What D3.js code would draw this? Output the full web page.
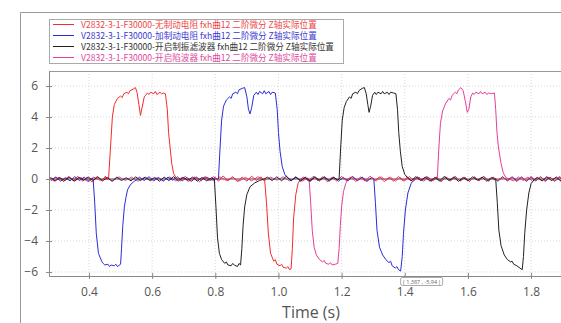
<!DOCTYPE html>
<html>
<head>
<meta charset="utf-8">
<script src="https://cdn.jsdelivr.net/npm/d3@7"></script>
<style>
  body { margin: 0; background: #fff; }
  svg { display: block; font-family: "Open Sans", "Noto Sans", sans-serif; }
  .tick text { fill: #555; font-size: 12px; }
  .legend text { font-family: "Noto Sans CJK SC", "Noto Sans", sans-serif; font-size: 8.6px; }
</style>
</head>
<body>
<svg id="chart" width="561" height="323"></svg>
<script>
const timeTicks = [0.4, 0.6, 0.8, 1.0, 1.2, 1.4, 1.6, 1.8];
const valueTicks = [-6, -4, -2, 0, 2, 4, 6];
const legendLabels = [
  "V2832-3-1-F30000-无制动电阻 fxh曲12 二阶微分 Z轴实际位置",
  "V2832-3-1-F30000-加制动电阻 fxh曲12 二阶微分 Z轴实际位置",
  "V2832-3-1-F30000-开启制振滤波器 fxh曲12 二阶微分 Z轴实际位置",
  "V2832-3-1-F30000-开启陷波器 fxh曲12 二阶微分 Z轴实际位置"
];
const lineColors = ["#f52a2a", "#2b2bdc", "#222222", "#e33f9c"];
const textColors = ["#f04545", "#3a3ad0", "#333333", "#e0489e"];

// 无制动电阻
const redData = [
  [0.275,0.08],[0.29,-0.14],[0.305,0.12],[0.32,-0.17],[0.335,0.14],[0.35,-0.1],[0.365,0.17],[0.38,-0.14],[0.395,0.12],[0.41,-0.2],[0.425,0.16],[0.44,-0.12],[0.452,0.18],[0.458,-0.06],
  [0.462,0.05],[0.468,2.0],[0.474,4.0],[0.48,4.8],[0.49,5.2],[0.5,5.35],[0.505,5.25],[0.51,5.5],[0.52,5.6],[0.525,5.5],[0.53,5.7],[0.54,5.8],[0.547,5.9],[0.552,5.6],[0.558,4.8],[0.563,4.1],[0.568,4.6],[0.575,5.3],[0.585,5.55],[0.59,5.45],[0.595,5.6],[0.605,5.5],[0.61,5.65],[0.615,5.45],[0.625,5.6],[0.63,5.5],[0.635,5.55],[0.642,5.5],[0.648,4.5],[0.652,3.0],[0.656,2.2],[0.662,1.0],[0.668,0.35],[0.675,0.12],
  [0.69,-0.12],[0.705,0.17],[0.72,-0.14],[0.735,0.12],[0.75,-0.18],[0.765,0.14],[0.78,-0.1],[0.795,0.16],[0.81,-0.14],[0.825,0.2],[0.84,-0.12],[0.855,0.14],[0.87,-0.17],[0.885,0.12],[0.9,-0.14],[0.915,0.18],[0.93,-0.1],[0.945,0.14],[0.952,-0.05],
  [0.956,0],[0.962,-1.5],[0.968,-3.5],[0.975,-4.8],[0.985,-5.3],[0.99,-5.2],[0.995,-5.5],[1.005,-5.6],[1.01,-5.5],[1.015,-5.7],[1.025,-5.75],[1.03,-5.65],[1.035,-5.85],[1.04,-5.8],[1.044,-4.5],[1.048,-2.5],[1.055,-1.0],[1.062,-0.3],[1.07,0.0],
  [1.08,0.12],[1.095,-0.14],[1.11,0.17],[1.125,-0.12],[1.14,0.14],[1.155,-0.18],[1.17,0.12],[1.185,-0.14],[1.2,0.16],[1.215,-0.1],[1.23,0.14],[1.245,-0.16],[1.26,0.12],[1.275,-0.14],[1.29,0.18],[1.305,-0.12],[1.32,0.14],[1.335,-0.17],[1.35,0.1],[1.365,-0.14],[1.38,0.16],[1.395,-0.12],[1.41,0.14],[1.425,-0.18],[1.44,0.12],[1.455,-0.1],[1.47,0.16],[1.485,-0.14],[1.5,0.12],[1.515,-0.16],[1.53,0.14],[1.545,-0.12],[1.56,0.17],[1.575,-0.14],[1.59,0.1],[1.605,-0.16],[1.62,0.14],[1.635,-0.12],[1.65,0.18],[1.665,-0.14],[1.68,0.12],[1.695,-0.1],[1.71,0.16],[1.725,-0.14],[1.74,0.12],[1.755,-0.17],[1.77,0.14],[1.785,-0.12],[1.8,0.16],[1.815,-0.1],[1.83,0.14],[1.845,-0.16],[1.86,0.12],[1.875,-0.14],[1.89,0.17],[1.905,-0.12]
];

// 加制动电阻
const blueData = [
  [0.28,-0.1],[0.295,0.12],[0.31,-0.14],[0.325,0.08],[0.34,-0.12],[0.355,0.15],[0.37,-0.1],[0.385,0.12],[0.4,-0.16],[0.41,0.06],
  [0.413,0],[0.418,-1.5],[0.423,-3.5],[0.43,-4.8],[0.44,-5.3],[0.445,-5.45],[0.45,-5.55],[0.46,-5.5],[0.465,-5.65],[0.47,-5.55],[0.48,-5.6],[0.485,-5.5],[0.49,-5.65],[0.5,-5.5],[0.503,-4.5],[0.507,-3.0],[0.512,-1.8],[0.517,-1.2],[0.522,-0.7],[0.53,-0.4],[0.54,-0.2],[0.55,-0.05],
  [0.56,0.12],[0.575,-0.1],[0.59,0.15],[0.605,-0.12],[0.62,0.1],[0.635,-0.14],[0.65,0.12],[0.665,-0.08],[0.68,0.14],[0.695,-0.12],[0.71,0.1],[0.725,-0.15],[0.74,0.12],[0.755,-0.1],[0.77,0.14],[0.785,-0.08],[0.8,0.1],[0.807,-0.05],
  [0.81,0],[0.815,2.0],[0.82,3.8],[0.826,4.7],[0.835,5.1],[0.845,5.3],[0.85,5.2],[0.855,5.5],[0.865,5.6],[0.87,5.5],[0.875,5.75],[0.885,5.85],[0.893,5.9],[0.9,5.3],[0.905,4.5],[0.91,4.2],[0.915,4.6],[0.922,5.4],[0.93,5.6],[0.935,5.45],[0.94,5.65],[0.95,5.5],[0.955,5.7],[0.96,5.5],[0.97,5.65],[0.975,5.45],[0.98,5.6],[0.99,5.55],[0.996,4.5],[1.0,3.0],[1.005,1.8],[1.012,0.8],[1.02,0.3],[1.03,0.05],
  [1.04,-0.12],[1.055,0.14],[1.07,-0.1],[1.085,0.12],[1.1,-0.16],[1.115,0.1],[1.13,-0.12],[1.145,0.15],[1.16,-0.08],[1.175,0.12],[1.19,-0.14],[1.205,0.1],[1.22,-0.12],[1.235,0.16],[1.25,-0.1],[1.265,0.12],[1.28,-0.14],[1.295,0.08],
  [1.302,0],[1.307,-1.5],[1.312,-3.3],[1.32,-4.4],[1.33,-4.9],[1.34,-5.2],[1.35,-5.4],[1.355,-5.3],[1.36,-5.6],[1.37,-5.75],[1.375,-5.65],[1.38,-5.85],[1.387,-5.94],[1.392,-5.0],[1.396,-3.5],[1.402,-2.0],[1.41,-0.9],[1.42,-0.3],[1.43,0],
  [1.44,0.12],[1.455,-0.1],[1.47,0.14],[1.485,-0.12],[1.5,0.1],[1.515,-0.15],[1.53,0.12],[1.545,-0.08],[1.56,0.14],[1.575,-0.12],[1.59,0.1],[1.605,-0.14],[1.62,0.12],[1.635,-0.1],[1.65,0.15],[1.665,-0.12],[1.68,0.1],[1.695,-0.14],[1.71,0.12],[1.725,-0.08],[1.74,0.14],[1.755,-0.1],[1.77,0.12],[1.785,-0.15],[1.8,0.1],[1.815,-0.12],[1.83,0.14],[1.845,-0.1],[1.86,0.12],[1.875,-0.14],[1.89,0.1],[1.905,-0.08]
];

// 开启制振滤波器
const blackData = [
  [0.278,0.1],[0.293,-0.12],[0.308,0.08],[0.323,-0.1],[0.338,0.12],[0.353,-0.14],[0.368,0.1],[0.383,-0.08],[0.398,0.12],[0.413,-0.1],[0.428,0.14],[0.443,-0.12],[0.458,0.1],[0.473,-0.15],[0.488,0.12],[0.503,-0.1],[0.518,0.08],[0.533,-0.12],[0.548,0.14],[0.563,-0.1],[0.578,0.12],[0.593,-0.08],[0.608,0.1],[0.623,-0.14],[0.638,0.12],[0.653,-0.1],[0.668,0.15],[0.683,-0.12],[0.698,0.1],[0.713,-0.08],[0.728,0.12],[0.743,-0.14],[0.758,0.1],[0.773,-0.12],[0.788,0.08],[0.795,-0.04],
  [0.797,0],[0.802,-1.8],[0.807,-3.8],[0.813,-4.8],[0.82,-5.2],[0.83,-5.45],[0.835,-5.35],[0.84,-5.55],[0.85,-5.6],[0.855,-5.45],[0.86,-5.55],[0.87,-5.65],[0.875,-5.45],[0.88,-5.55],[0.884,-4.5],[0.888,-3.0],[0.893,-1.8],[0.9,-1.0],[0.91,-0.5],[0.925,-0.25],[0.94,-0.1],[0.955,0],
  [0.965,0.12],[0.98,-0.1],[0.995,0.14],[1.01,-0.12],[1.025,0.18],[1.04,-0.1],[1.055,0.12],[1.07,-0.14],[1.085,0.1],[1.1,-0.12],[1.115,0.15],[1.13,-0.08],[1.145,0.12],[1.16,-0.14],[1.175,0.1],[1.188,-0.06],
  [1.192,0],[1.197,2.0],[1.202,3.8],[1.208,4.6],[1.215,5.0],[1.225,5.3],[1.23,5.2],[1.235,5.5],[1.245,5.6],[1.25,5.5],[1.255,5.7],[1.265,5.85],[1.272,5.9],[1.278,5.5],[1.283,4.8],[1.287,4.3],[1.292,4.7],[1.298,5.4],[1.305,5.6],[1.31,5.45],[1.315,5.6],[1.325,5.5],[1.33,5.65],[1.335,5.5],[1.345,5.6],[1.35,5.45],[1.355,5.6],[1.365,5.55],[1.372,5.5],[1.377,4.5],[1.381,3.0],[1.386,1.8],[1.392,0.8],[1.4,0.3],[1.41,0.05],
  [1.42,-0.12],[1.435,0.15],[1.45,-0.1],[1.465,0.12],[1.48,-0.14],[1.495,0.1],[1.51,-0.12],[1.525,0.16],[1.54,-0.1],[1.555,0.12],[1.57,-0.15],[1.585,0.1],[1.6,-0.12],[1.615,0.14],[1.63,-0.08],[1.645,0.12],[1.66,-0.14],[1.675,0.1],[1.685,-0.05],
  [1.688,0],[1.693,-1.5],[1.698,-3.3],[1.705,-4.3],[1.715,-4.9],[1.725,-5.2],[1.735,-5.35],[1.74,-5.3],[1.745,-5.5],[1.755,-5.6],[1.765,-5.75],[1.772,-5.85],[1.776,-5.0],[1.78,-3.5],[1.786,-2.0],[1.793,-0.9],[1.8,-0.3],[1.81,-0.05],
  [1.82,0.1],[1.835,-0.12],[1.85,0.14],[1.865,-0.1],[1.88,0.12],[1.895,-0.14],[1.91,0.08]
];

// 开启陷波器
const pinkData = [
  [0.275,-0.08],[0.295,0.12],[0.315,-0.1],[0.335,0.14],[0.355,-0.12],[0.375,0.1],[0.395,-0.15],[0.415,0.12],[0.435,-0.08],[0.455,0.1],[0.475,-0.12],[0.495,0.14],[0.515,-0.1],[0.535,0.12],[0.555,-0.14],[0.575,0.1],[0.595,-0.12],[0.615,0.08],[0.635,-0.1],[0.655,0.14],[0.675,-0.12],[0.695,0.1],[0.715,-0.15],[0.735,0.12],[0.755,-0.08],[0.775,0.1],[0.795,-0.12],[0.815,0.14],[0.835,-0.1],[0.855,0.12],[0.875,-0.14],[0.895,0.1],[0.915,-0.12],[0.935,0.15],[0.955,-0.1],[0.975,0.12],[0.995,-0.08],[1.015,0.14],[1.035,-0.12],[1.055,0.1],[1.075,-0.14],[1.092,0.06],
  [1.097,0],[1.102,-1.5],[1.107,-3.3],[1.113,-4.4],[1.12,-4.9],[1.13,-5.2],[1.14,-5.35],[1.145,-5.25],[1.15,-5.45],[1.16,-5.5],[1.165,-5.4],[1.17,-5.55],[1.18,-5.5],[1.188,-5.45],[1.192,-4.5],[1.196,-3.0],[1.2,-1.8],[1.206,-0.8],[1.213,-0.3],[1.22,0],
  [1.235,0.14],[1.25,-0.1],[1.265,0.12],[1.28,-0.15],[1.295,0.1],[1.31,-0.12],[1.325,0.14],[1.34,-0.08],[1.355,0.12],[1.37,-0.14],[1.385,0.1],[1.4,-0.12],[1.415,0.16],[1.43,-0.1],[1.445,0.12],[1.46,-0.14],[1.475,0.1],[1.49,-0.12],[1.5,0.05],
  [1.503,0],[1.508,2.0],[1.513,3.6],[1.52,4.4],[1.53,4.9],[1.54,5.2],[1.545,5.1],[1.55,5.4],[1.56,5.6],[1.565,5.5],[1.57,5.75],[1.578,5.9],[1.585,5.7],[1.592,5.0],[1.598,4.3],[1.603,4.5],[1.609,5.3],[1.615,5.55],[1.62,5.45],[1.625,5.6],[1.635,5.5],[1.64,5.65],[1.645,5.5],[1.655,5.6],[1.66,5.45],[1.665,5.55],[1.675,5.5],[1.684,5.55],[1.688,4.5],[1.692,3.0],[1.697,2.0],[1.705,1.0],[1.712,0.4],[1.72,0.1],[1.73,0],
  [1.745,-0.12],[1.76,0.14],[1.775,-0.1],[1.79,0.12],[1.805,-0.15],[1.82,0.1],[1.835,-0.12],[1.85,0.14],[1.865,-0.08],[1.88,0.12],[1.895,-0.14],[1.91,0.1]
];

const tipPoint = [1.387, -5.94];

const svg = d3.select("#chart");
const plot = { left: 49, top: 71, right: 580, bottom: 276 };

const x = d3.scaleLinear().domain([0.2733, 1.955]).range([plot.left, plot.right]);
const y = d3.scaleLinear().domain([-6.26, 6.97]).range([plot.bottom, plot.top]);

// outer frame
svg.append("path")
  .attr("d", "M20.5,323V12.5H561")
  .attr("fill", "none")
  .attr("stroke", "#999");

// legend
const legend = svg.append("g").attr("class", "legend");
legend.append("rect")
  .attr("x", 49.5).attr("y", 19.5)
  .attr("width", 294).attr("height", 44)
  .attr("fill", "#fff").attr("stroke", "#aaa");
legendLabels.forEach((label, i) => {
  const ly = 24.5 + i * 11;
  legend.append("line")
    .attr("x1", 53).attr("x2", 74)
    .attr("y1", ly).attr("y2", ly)
    .attr("stroke", lineColors[i]).attr("stroke-width", 1);
  legend.append("text")
    .attr("x", 81).attr("y", ly + 3)
    .attr("fill", textColors[i])
    .text(label);
});

// grid
const grid = svg.append("g");
grid.selectAll("line.vg")
  .data(timeTicks)
  .enter()
  .append("line")
  .attr("x1", (d) => x(d)).attr("x2", (d) => x(d))
  .attr("y1", plot.top).attr("y2", plot.bottom)
  .attr("stroke", "#d8d8d8")
  .attr("stroke-dasharray", "1,2");
grid.selectAll("line.hg")
  .data(valueTicks)
  .enter()
  .append("line")
  .attr("x1", plot.left).attr("x2", 561)
  .attr("y1", (d) => y(d)).attr("y2", (d) => y(d))
  .attr("stroke", "#d8d8d8")
  .attr("stroke-dasharray", "1,2");

// plot top border
svg.append("line")
  .attr("x1", plot.left).attr("x2", 561)
  .attr("y1", plot.top + 0.5).attr("y2", plot.top + 0.5)
  .attr("stroke", "#999");

// zero line
svg.append("line")
  .attr("x1", plot.left).attr("x2", 561)
  .attr("y1", y(0)).attr("y2", y(0))
  .attr("stroke", "#555");

svg.append("clipPath").attr("id", "clip")
  .append("rect")
  .attr("x", plot.left).attr("y", plot.top)
  .attr("width", plot.right - plot.left).attr("height", plot.bottom - plot.top);

const line = d3.line().x((d) => x(d[0])).y((d) => y(d[1]));
const traces = svg.append("g").attr("clip-path", "url(#clip)");
[[pinkData, 3], [blueData, 1], [redData, 0], [blackData, 2]].forEach(([data, i]) => {
  traces.append("path")
    .datum(data)
    .attr("fill", "none")
    .attr("stroke", lineColors[i])
    .attr("stroke-width", 1)
    .attr("stroke-linejoin", "round")
    .attr("d", line);
});

// axes
const xAxis = svg.append("g")
  .attr("transform", "translate(0," + plot.bottom + ")")
  .call(d3.axisBottom(x).tickValues(timeTicks).tickSize(3).tickPadding(8)
    .tickFormat(d3.format(".1f")).tickSizeOuter(0));
const yAxis = svg.append("g")
  .attr("transform", "translate(" + plot.left + ",0)")
  .call(d3.axisLeft(y).tickValues(valueTicks).tickSize(3).tickPadding(8).tickSizeOuter(0));

[xAxis, yAxis].forEach((a) => {
  a.select(".domain").attr("stroke", "#888");
  a.selectAll(".tick line").attr("stroke", "#888");
  a.selectAll(".tick text").attr("font-family", "'Open Sans', sans-serif");
});
xAxis.selectAll(".tick line").attr("y1", -3);
yAxis.selectAll(".tick line").attr("x1", 3);

svg.append("text")
  .attr("x", 311).attr("y", 318)
  .attr("text-anchor", "middle")
  .attr("fill", "#555")
  .attr("font-size", 16)
  .text("Time (s)");

// data tip
const tip = svg.append("g")
  .attr("transform", "translate(" + x(tipPoint[0]) + "," + (plot.bottom + 1.5) + ")");
tip.append("rect")
  .attr("width", 42).attr("height", 8).attr("rx", 1.5)
  .attr("fill", "#fff").attr("stroke", "#aaa");
tip.append("text")
  .attr("x", 21).attr("y", 6)
  .attr("text-anchor", "middle")
  .attr("font-size", 5.5).attr("fill", "#666")
  .text("( " + tipPoint[0] + " , " + tipPoint[1] + " )");
</script>
</body>
</html>
